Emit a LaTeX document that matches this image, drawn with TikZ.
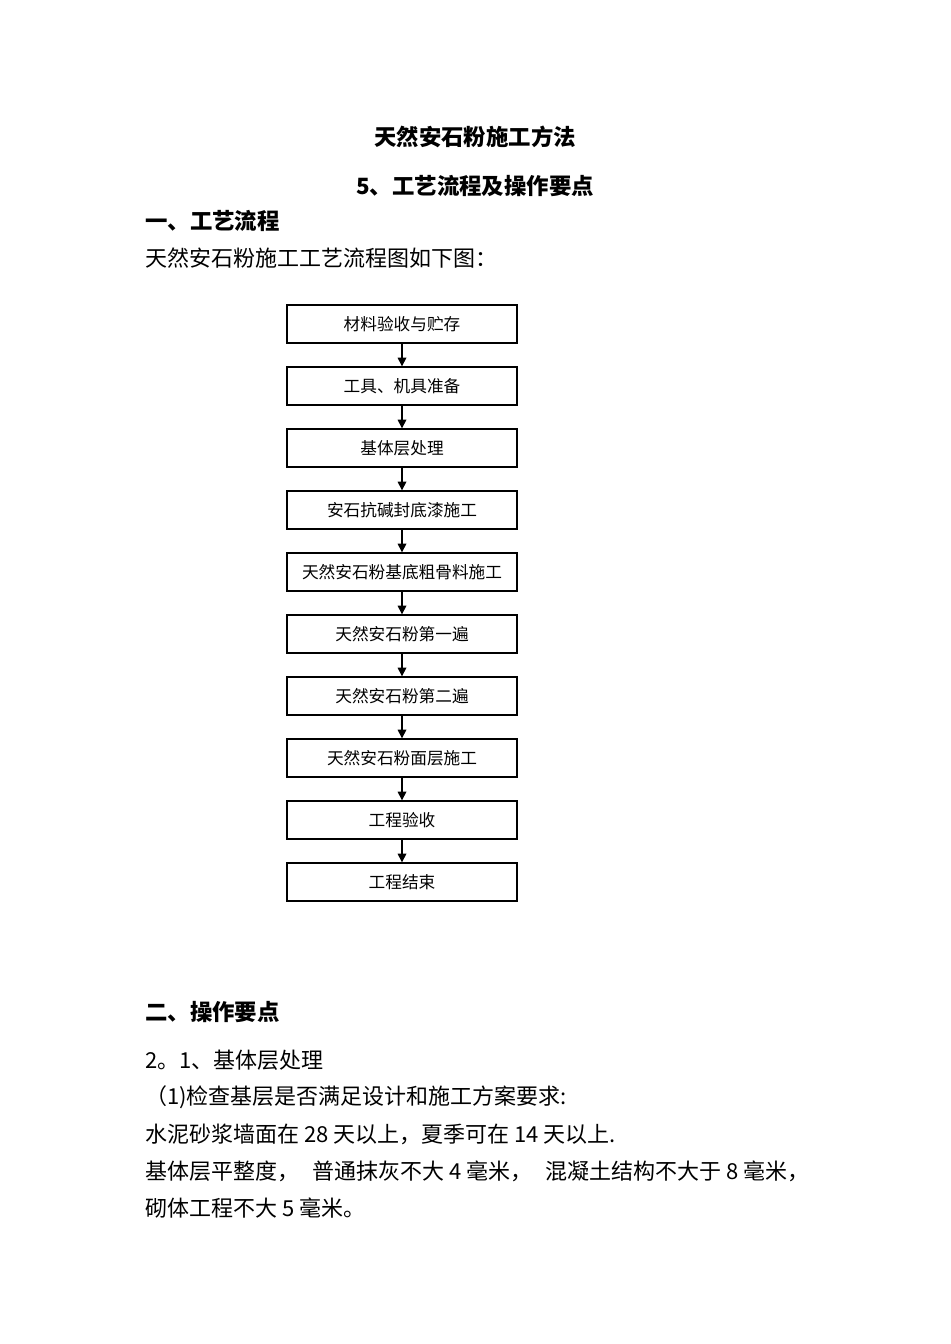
\documentclass[tikz,border=0pt]{standalone}
\usepackage{fontspec}
\setmainfont{Liberation Serif}
\newfontfamily\cjk{Noto Sans CJK SC}
\usetikzlibrary{positioning,arrows.meta}

\begin{document}
\begin{tikzpicture}[x=0.75pt, y=-0.75pt, node distance=17pt,
    box_style/.style={rectangle, draw=black, line width=1pt, minimum width=172.5pt,
        minimum height=28.5pt, inner sep=0pt, font=\cjk\fontsize{12.5}{12.5}\selectfont},
    edge_style/.style={draw=black, line width=0.9pt, -{Triangle[length=6.5pt,width=6.5pt]}},
    head_style/.style={inner sep=0pt, font=\cjk\bfseries\fontsize{16.8}{16.8}\selectfont},
    text_style/.style={inner sep=0pt, anchor=west, font=\cjk\fontsize{16.5}{16.5}\selectfont}]

    \useasboundingbox (0,0) rectangle (950,1344);

    % headings
    \node[head_style] (title) at (475,137) {天然安石粉施工方法};
    \node[head_style] (sub) at (475,186) {5、工艺流程及操作要点};
    \node[head_style, anchor=west] (h1) at (145,221) {一、工艺流程};
    \node[text_style] (intro) at (145,258) {天然安石粉施工工艺流程图如下图：};

    % flow chart
    \node[box_style] (s1) at (402,324) {材料验收与贮存};
    \node[box_style, below=of s1] (s2) {工具、机具准备};
    \node[box_style, below=of s2] (s3) {基体层处理};
    \node[box_style, below=of s3] (s4) {安石抗碱封底漆施工};
    \node[box_style, below=of s4] (s5) {天然安石粉基底粗骨料施工};
    \node[box_style, below=of s5] (s6) {天然安石粉第一遍};
    \node[box_style, below=of s6] (s7) {天然安石粉第二遍};
    \node[box_style, below=of s7] (s8) {天然安石粉面层施工};
    \node[box_style, below=of s8] (s9) {工程验收};
    \node[box_style, below=of s9] (s10) {工程结束};
    \foreach \a/\b in {s1/s2, s2/s3, s3/s4, s4/s5, s5/s6, s6/s7, s7/s8, s8/s9, s9/s10}
        \draw[edge_style] (\a) -- (\b);

    % operation points
    \node[head_style, anchor=west] (h2) at (145,1012) {二、操作要点};
    \node[text_style] (p1) at (145,1060) {2。1、基体层处理};
    \node[text_style] (p2) at (145,1097) {（1)检查基层是否满足设计和施工方案要求:};
    \node[text_style] (p3) at (145,1134) {水泥砂浆墙面在 28 天以上，夏季可在 14 天以上.};
    \node[text_style] (p4) at (145,1171) {基体层平整度，\hspace{0.6em}普通抹灰不大 4 毫米，\hspace{0.6em}混凝土结构不大于 8 毫米，};
    \node[text_style] (p5) at (145,1208) {砌体工程不大 5 毫米。};
\end{tikzpicture}
\end{document}
